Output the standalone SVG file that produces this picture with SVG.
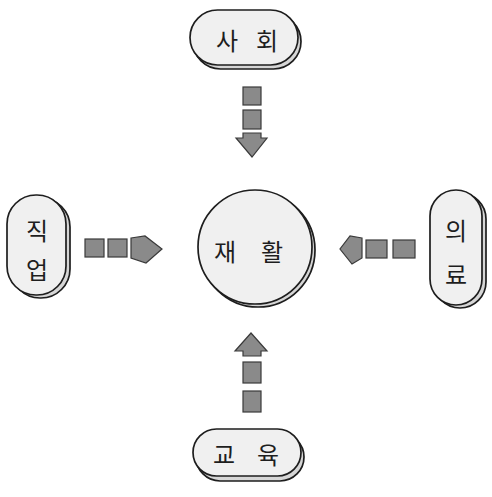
<svg xmlns="http://www.w3.org/2000/svg" width="492" height="497" viewBox="0 0 492 497">
<style>
.shape{fill:#f0f0f0;stroke:#1e1e1e;stroke-width:1.7}
.shadow{fill:#d6d6d6;stroke:#1e1e1e;stroke-width:1.7}
.lbl{font-family:"Noto Sans CJK KR","Noto Sans",sans-serif;font-size:24px;fill:#1e1e1e;text-anchor:middle;dominant-baseline:central}
.blk{fill:#8a8a8a;stroke:#3a3a3a;stroke-width:1.2}
</style>
<rect width="492" height="497" fill="#fff"/>
<g id="social">
<rect class="shadow" x="193" y="14" width="108" height="55" rx="27.5"/>
<rect class="shape" x="190" y="10" width="108" height="55" rx="27.5"/>
<text class="lbl" x="227" y="39">사</text>
<text class="lbl" x="267" y="39">회</text>
</g>
<g id="job">
<rect class="shadow" x="11" y="198" width="59" height="100" rx="29"/>
<rect class="shape" x="7" y="195" width="59" height="100" rx="29"/>
<text class="lbl" x="37" y="229">직</text>
<text class="lbl" x="37" y="268">업</text>
</g>
<g id="rehab">
<circle class="shadow" cx="258" cy="250" r="57"/>
<circle class="shape" cx="255" cy="247" r="57"/>
<text class="lbl" x="225" y="250">재</text>
<text class="lbl" x="272" y="250">활</text>
</g>
<g id="medical">
<rect class="shadow" x="434" y="193" width="52" height="115" rx="26"/>
<rect class="shape" x="430" y="190" width="52" height="115" rx="26"/>
<text class="lbl" x="456" y="229">의</text>
<text class="lbl" x="456" y="273">료</text>
</g>
<g id="education">
<rect class="shadow" x="196" y="433" width="108" height="48" rx="24"/>
<rect class="shape" x="193" y="429" width="108" height="47" rx="23.5"/>
<text class="lbl" x="224" y="453">교</text>
<text class="lbl" x="268" y="453">육</text>
</g>
<g id="connectors">
<!-- from social (down) -->
<rect class="blk" x="243" y="87" width="18" height="18"/>
<rect class="blk" x="243" y="110" width="18" height="19"/>
<polygon class="blk" points="243,133 261,133 261,138 267,138 252,157 236,138 243,138"/>
<!-- from job (right) -->
<rect class="blk" x="85" y="239" width="19" height="18"/>
<rect class="blk" x="108" y="239" width="19" height="18"/>
<polygon class="blk" points="131,238 145,236 162,249 146,263 131,258"/>
<!-- from medical (left) -->
<polygon class="blk" points="362,238 350,236 340,249 352,264 362,258"/>
<rect class="blk" x="366" y="240" width="21" height="18"/>
<rect class="blk" x="393" y="240" width="22" height="18"/>
<!-- from education (up) -->
<polygon class="blk" points="251,333 267,351 261,351 261,356 243,356 243,351 235,351"/>
<rect class="blk" x="243" y="362" width="18" height="21"/>
<rect class="blk" x="243" y="391" width="18" height="21"/>
</g>
</svg>
